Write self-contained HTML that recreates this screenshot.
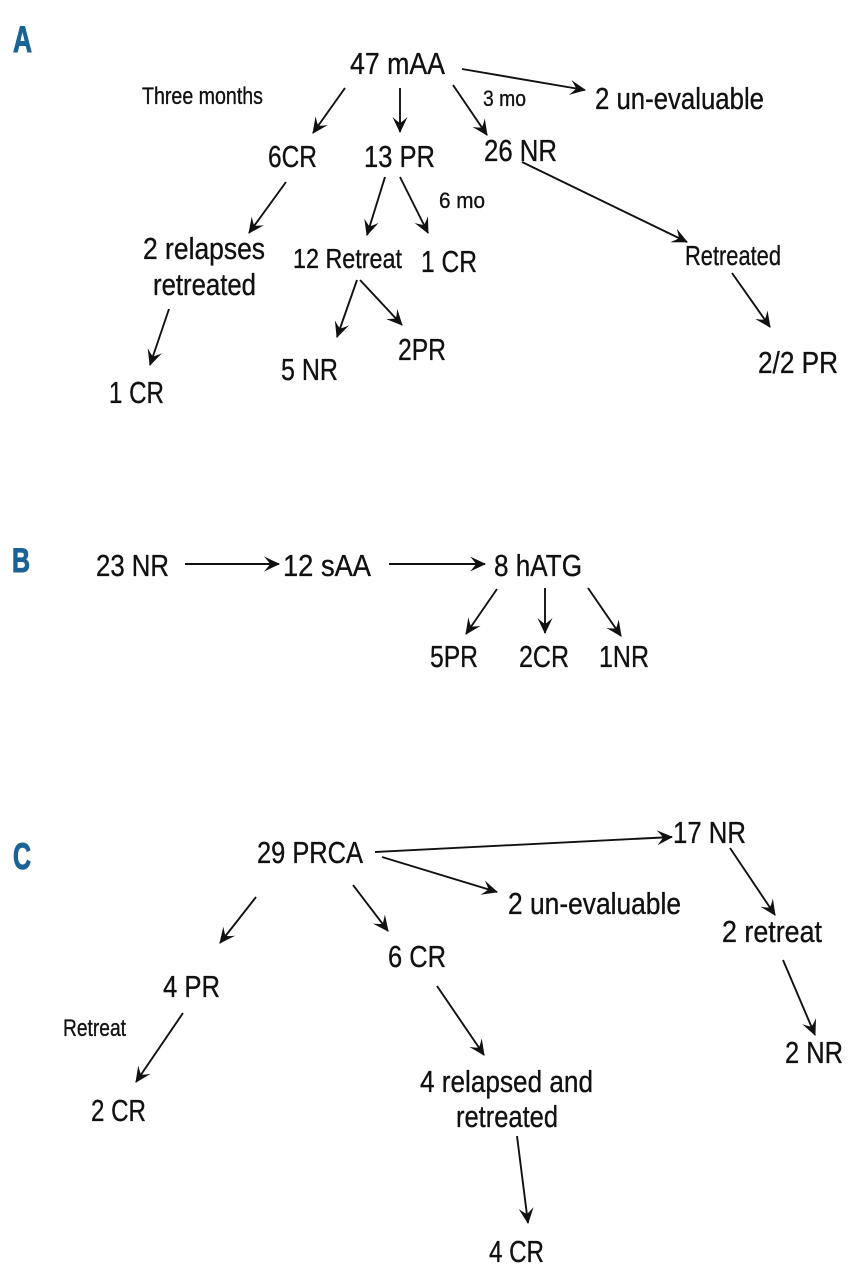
<!DOCTYPE html>
<html>
<head>
<meta charset="utf-8">
<style>
  html, body { margin:0; padding:0; background:#ffffff; }
  svg { display:block; }
  .t { font-family: "Liberation Sans", "DejaVu Sans", sans-serif; fill:#111111; stroke:#111111; stroke-width:0.35; }
  .lbl { font-family: "Liberation Sans", "DejaVu Sans", sans-serif; font-weight:bold; fill:#1b6394; stroke:#1b6394; stroke-width:1; }
  .ln { stroke:#111111; stroke-width:1.9; fill:none; marker-end:url(#ah); }
</style>
</head>
<body>
<svg width="861" height="1280" viewBox="0 0 861 1280" xmlns="http://www.w3.org/2000/svg">
  <defs>
    <marker id="ah" viewBox="-17 -9 19 18" refX="0" refY="0" markerWidth="19" markerHeight="18" markerUnits="userSpaceOnUse" orient="auto">
      <path d="M1,0 L-15,-7.5 Q-10.5,-2.5 -9,0 Q-10.5,2.5 -15,7.5 Z" fill="#111111"/>
    </marker>
  </defs>
  <rect width="861" height="1280" fill="#ffffff"/>

  <!-- Panel letters -->
  <text class="lbl" x="13" y="52" font-size="37" textLength="19" lengthAdjust="spacingAndGlyphs">A</text>
  <text class="lbl" x="12" y="572" font-size="34" textLength="18" lengthAdjust="spacingAndGlyphs">B</text>
  <text class="lbl" x="13" y="869" font-size="37" textLength="18" lengthAdjust="spacingAndGlyphs">C</text>

  <!-- ===== Panel A ===== -->
  <text class="t" x="350" y="74" font-size="31" textLength="95" lengthAdjust="spacingAndGlyphs">47 mAA</text>
  <text class="t" x="142" y="104" font-size="24" textLength="121" lengthAdjust="spacingAndGlyphs">Three months</text>
  <text class="t" x="483" y="106" font-size="22" textLength="43" lengthAdjust="spacingAndGlyphs">3 mo</text>
  <text class="t" x="595" y="109" font-size="31" textLength="169" lengthAdjust="spacingAndGlyphs">2 un-evaluable</text>
  <text class="t" x="268" y="167" font-size="31" textLength="49" lengthAdjust="spacingAndGlyphs">6CR</text>
  <text class="t" x="364" y="167" font-size="31" textLength="71" lengthAdjust="spacingAndGlyphs">13 PR</text>
  <text class="t" x="484" y="161" font-size="31" textLength="73" lengthAdjust="spacingAndGlyphs">26 NR</text>
  <text class="t" x="439" y="208" font-size="22" textLength="46" lengthAdjust="spacingAndGlyphs">6 mo</text>
  <text class="t" x="143" y="259" font-size="31" textLength="122" lengthAdjust="spacingAndGlyphs">2 relapses</text>
  <text class="t" x="153" y="295" font-size="31" textLength="103" lengthAdjust="spacingAndGlyphs">retreated</text>
  <text class="t" x="293" y="268" font-size="28" textLength="109" lengthAdjust="spacingAndGlyphs">12 Retreat</text>
  <text class="t" x="421" y="272" font-size="31" textLength="56" lengthAdjust="spacingAndGlyphs">1 CR</text>
  <text class="t" x="685" y="265" font-size="28" textLength="96" lengthAdjust="spacingAndGlyphs">Retreated</text>
  <text class="t" x="109" y="403" font-size="31" textLength="55" lengthAdjust="spacingAndGlyphs">1 CR</text>
  <text class="t" x="281" y="380" font-size="31" textLength="57" lengthAdjust="spacingAndGlyphs">5 NR</text>
  <text class="t" x="398" y="360" font-size="31" textLength="48" lengthAdjust="spacingAndGlyphs">2PR</text>
  <text class="t" x="758" y="373" font-size="31" textLength="80" lengthAdjust="spacingAndGlyphs">2/2 PR</text>

  <line class="ln" x1="345" y1="88" x2="313" y2="133"/>
  <line class="ln" x1="400" y1="88" x2="400" y2="132"/>
  <line class="ln" x1="453" y1="85" x2="487" y2="135"/>
  <line class="ln" x1="462" y1="69" x2="585" y2="90"/>
  <line class="ln" x1="286" y1="182" x2="249" y2="233"/>
  <line class="ln" x1="385" y1="177" x2="367" y2="235"/>
  <line class="ln" x1="400" y1="177" x2="428" y2="233"/>
  <line class="ln" x1="522" y1="162" x2="687" y2="242"/>
  <line class="ln" x1="169" y1="309" x2="150" y2="365"/>
  <line class="ln" x1="357" y1="280" x2="337" y2="337"/>
  <line class="ln" x1="360" y1="280" x2="402" y2="325"/>
  <line class="ln" x1="732" y1="273" x2="770" y2="327"/>

  <!-- ===== Panel B ===== -->
  <text class="t" x="96" y="576" font-size="31" textLength="73" lengthAdjust="spacingAndGlyphs">23 NR</text>
  <text class="t" x="283" y="576" font-size="31" textLength="88" lengthAdjust="spacingAndGlyphs">12 sAA</text>
  <text class="t" x="494" y="576" font-size="31" textLength="88" lengthAdjust="spacingAndGlyphs">8 hATG</text>
  <text class="t" x="430" y="667" font-size="31" textLength="48" lengthAdjust="spacingAndGlyphs">5PR</text>
  <text class="t" x="519" y="667" font-size="31" textLength="50" lengthAdjust="spacingAndGlyphs">2CR</text>
  <text class="t" x="599" y="667" font-size="31" textLength="50" lengthAdjust="spacingAndGlyphs">1NR</text>

  <line class="ln" x1="185" y1="564" x2="279" y2="564"/>
  <line class="ln" x1="389" y1="564" x2="485" y2="564"/>
  <line class="ln" x1="497" y1="589" x2="466" y2="634"/>
  <line class="ln" x1="545" y1="588" x2="545" y2="633"/>
  <line class="ln" x1="588" y1="588" x2="621" y2="636"/>

  <!-- ===== Panel C ===== -->
  <text class="t" x="257" y="863" font-size="31" textLength="106" lengthAdjust="spacingAndGlyphs">29 PRCA</text>
  <text class="t" x="673" y="843" font-size="31" textLength="73" lengthAdjust="spacingAndGlyphs">17 NR</text>
  <text class="t" x="508" y="914" font-size="31" textLength="173" lengthAdjust="spacingAndGlyphs">2 un-evaluable</text>
  <text class="t" x="388" y="967" font-size="31" textLength="58" lengthAdjust="spacingAndGlyphs">6 CR</text>
  <text class="t" x="163" y="997" font-size="31" textLength="57" lengthAdjust="spacingAndGlyphs">4 PR</text>
  <text class="t" x="63" y="1036" font-size="24" textLength="63" lengthAdjust="spacingAndGlyphs">Retreat</text>
  <text class="t" x="91" y="1121" font-size="31" textLength="55" lengthAdjust="spacingAndGlyphs">2 CR</text>
  <text class="t" x="722" y="942" font-size="31" textLength="100" lengthAdjust="spacingAndGlyphs">2 retreat</text>
  <text class="t" x="420" y="1092" font-size="31" textLength="173" lengthAdjust="spacingAndGlyphs">4 relapsed and</text>
  <text class="t" x="456" y="1127" font-size="31" textLength="102" lengthAdjust="spacingAndGlyphs">retreated</text>
  <text class="t" x="785" y="1063" font-size="31" textLength="58" lengthAdjust="spacingAndGlyphs">2 NR</text>
  <text class="t" x="489" y="1262" font-size="31" textLength="55" lengthAdjust="spacingAndGlyphs">4 CR</text>

  <line class="ln" x1="375" y1="852" x2="672" y2="837"/>
  <line class="ln" x1="382" y1="857" x2="497" y2="892"/>
  <line class="ln" x1="256" y1="897" x2="220" y2="943"/>
  <line class="ln" x1="353" y1="885" x2="388" y2="931"/>
  <line class="ln" x1="183" y1="1013" x2="136" y2="1082"/>
  <line class="ln" x1="437" y1="986" x2="484" y2="1055"/>
  <line class="ln" x1="517" y1="1136" x2="528" y2="1223"/>
  <line class="ln" x1="730" y1="848" x2="775" y2="915"/>
  <line class="ln" x1="783" y1="960" x2="815" y2="1035"/>
</svg>
</body>
</html>
